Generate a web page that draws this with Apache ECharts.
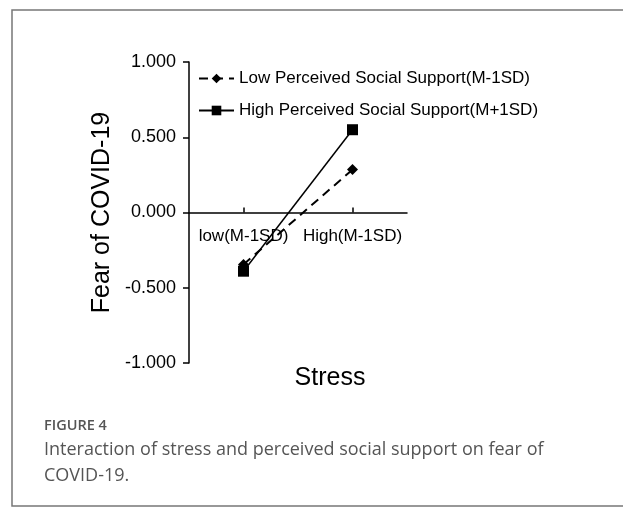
<!DOCTYPE html>
<html><head><meta charset="utf-8">
<script src="https://cdn.jsdelivr.net/npm/echarts@6/dist/echarts.min.js"></script>
<style>html,body{margin:0;padding:0;background:#fff}#c{width:623px;height:509px}</style>
</head><body><div id="c"></div>
<script>
const categories = ['low(M-1SD)', 'High(M-1SD)'];
const lowSupport = [-0.345, 0.285];
const highSupport = [-0.39, 0.55];
const seriesNames = ['Low Perceived Social Support(M-1SD)', 'High Perceived Social Support(M+1SD)'];
const yTicks = { min: -1, max: 1, interval: 0.5 };

const chart = echarts.init(document.getElementById('c'));
const F = 'Liberation Sans, Arial, sans-serif';
chart.setOption({
  animation: false,
  backgroundColor: '#fff',
  grid: { left: 189, right: 216, top: 62, bottom: 146 },
  legend: {
    orient: 'vertical', left: 193, top: 65, itemGap: 15,
    itemWidth: 35, itemHeight: 12,
    textStyle: { fontFamily: F, fontSize: 17, color: '#000' },
    data: seriesNames
  },
  xAxis: {
    type: 'category', data: categories, boundaryGap: true,
    offset: -150.5,
    axisLine: { onZero: false, lineStyle: { color: '#000', width: 1.5 } },
    axisTick: { show: true, inside: true, alignWithLabel: true, interval: 0, length: 5, lineStyle: { color: '#000', width: 1.5 } },
    axisLabel: { fontFamily: F, fontSize: 17, color: '#000', margin: 15, interval: 0, hideOverlap: false },
    splitLine: { show: false }
  },
  yAxis: {
    type: 'value', min: yTicks.min, max: yTicks.max, interval: yTicks.interval,
    name: 'Fear of COVID-19', nameLocation: 'middle', nameGap: 74, nameRotate: 90,
    nameTextStyle: { fontFamily: F, fontSize: 25, color: '#000' },
    axisLine: { show: true, lineStyle: { color: '#000', width: 1.5 } },
    axisTick: { show: true, inside: false, length: 6, lineStyle: { color: '#000', width: 1.5 } },
    axisLabel: { fontFamily: F, fontSize: 18, color: '#000', margin: 13, formatter: v => v.toFixed(3) },
    splitLine: { show: false }
  },
  series: [
    {
      name: seriesNames[0], type: 'line', data: lowSupport,
      symbol: 'diamond', symbolSize: 11,
      lineStyle: { color: '#000', width: 2, type: [9, 6] },
      itemStyle: { color: '#000' }
    },
    {
      name: seriesNames[1], type: 'line', data: highSupport,
      symbol: 'rect', symbolSize: 11,
      lineStyle: { color: '#000', width: 1.5 },
      itemStyle: { color: '#000' }
    }
  ],
  graphic: [
    { type: 'rect', shape: { x: 12, y: 10, width: 620, height: 496 }, style: { fill: 'none', stroke: '#777', lineWidth: 1.5 }, silent: true },
    { type: 'text', x: 330, y: 378, style: { text: 'Stress', font: '25px "Liberation Sans", Arial, sans-serif', fill: '#000', align: 'center', verticalAlign: 'middle' } },
    { type: 'text', left: 44, top: 418, style: { text: 'FIGURE 4', font: '600 14.5px "Open Sans", sans-serif', fill: '#555' } },
    { type: 'text', left: 44, top: 437, style: { text: 'Interaction of stress and perceived social support on fear of\nCOVID-19.', font: '18px "Open Sans", sans-serif', fill: '#555', lineHeight: 26 } }
  ]
});
</script></body></html>
